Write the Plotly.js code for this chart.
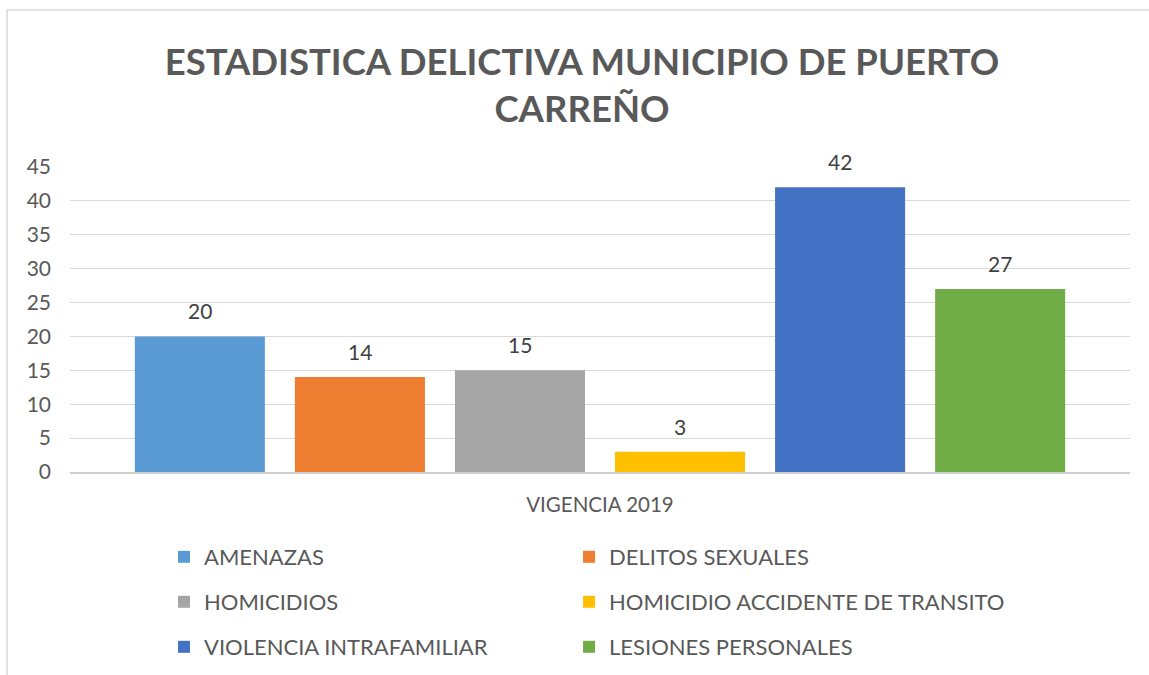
<!DOCTYPE html>
<html>
<head>
<meta charset="utf-8">
<script src="https://cdn.plot.ly/plotly-3.0.1.min.js"></script>
<style>html,body{margin:0;padding:0;background:#fff;}#chart{width:1149px;height:675px;}</style>
</head>
<body>
<div id="chart"></div>
<script>
const categories = ['VIGENCIA 2019'];
const seriesNames = ['AMENAZAS', 'DELITOS SEXUALES', 'HOMICIDIOS', 'HOMICIDIO ACCIDENTE DE TRANSITO', 'VIOLENCIA INTRAFAMILIAR', 'LESIONES PERSONALES'];
const seriesValues = [20, 14, 15, 3, 42, 27];
const seriesColors = ['#5B9BD5', '#ED7D31', '#A5A5A5', '#FFC000', '#4472C4', '#70AD47'];
const yTicks = [0, 5, 10, 15, 20, 25, 30, 35, 40, 45];

const FONT = 'Lato, "Open Sans", sans-serif';
const bargap = 0.094;

// legend grid: two columns, three rows (paper coordinates)
const legendCols = [0.0887, 0.4708];
const legendRows = [-0.2787, -0.4262, -0.5738];
const legendIds = ['legend', 'legend2', 'legend3', 'legend4', 'legend5', 'legend6'];

const traces = seriesNames.map((name, i) => ({
  type: 'bar',
  name: name,
  x: categories,
  y: [seriesValues[i]],
  marker: {color: seriesColors[i]},
  legend: legendIds[i],
  hoverinfo: 'name+y'
}));

const n = seriesNames.length;
const slot = (1 - bargap) / n;
const annotations = seriesValues.map((v, i) => ({
  xref: 'x', yref: 'y',
  x: -(1 - bargap) / 2 + (i + 0.5) * slot,
  y: v,
  text: String(v),
  showarrow: false,
  yanchor: 'bottom',
  yshift: 11,
  font: {family: FONT, size: 21, color: '#404040'}
}));

const layout = {
  width: 1149,
  height: 675,
  paper_bgcolor: '#ffffff',
  plot_bgcolor: '#ffffff',
  margin: {l: 70, r: 19, t: 167, b: 203, autoexpand: false},
  title: {
    text: '<b>ESTADISTICA DELICTIVA MUNICIPIO DE PUERTO<br>CARREÑO</b>',
    font: {family: FONT, size: 36.5, color: '#595959'},
    x: 582 / 1149, xref: 'container', xanchor: 'center',
    y: 1 - 75 / 675, yref: 'container', yanchor: 'middle'
  },
  barmode: 'group',
  bargap: bargap,
  bargroupgap: 0.1875,
  xaxis: {
    type: 'category',
    showgrid: false,
    showline: true,
    linecolor: '#D0D0D0',
    linewidth: 2,
    ticks: '',
    ticklabelstandoff: 13,
    tickfont: {family: FONT, size: 20.5, color: '#595959'}
  },
  yaxis: {
    range: [0, 45],
    tickvals: yTicks,
    showgrid: true,
    gridcolor: '#D9D9D9',
    gridwidth: 1,
    zeroline: false,
    showline: false,
    ticks: '',
    ticklabelstandoff: 18,
    tickfont: {family: FONT, size: 21, color: '#595959'}
  },
  annotations: annotations,
  shapes: [{
    type: 'rect', xref: 'paper', yref: 'paper',
    x0: -0.0594, x1: 1.03, y0: -0.70, y1: 1.5148,
    line: {color: '#D9D9D9', width: 1.5},
    fillcolor: 'rgba(0,0,0,0)',
    layer: 'below'
  }],
  showlegend: true
};

legendIds.forEach((id, i) => {
  layout[id] = {
    orientation: 'h',
    x: legendCols[i % 2],
    y: legendRows[Math.floor(i / 2)],
    xanchor: 'left',
    yanchor: 'middle',
    font: {family: FONT, size: 22, color: '#595959'},
    bgcolor: 'rgba(0,0,0,0)'
  };
});

Plotly.newPlot('chart', traces, layout, {displayModeBar: false, responsive: false});
</script>
</body>
</html>
